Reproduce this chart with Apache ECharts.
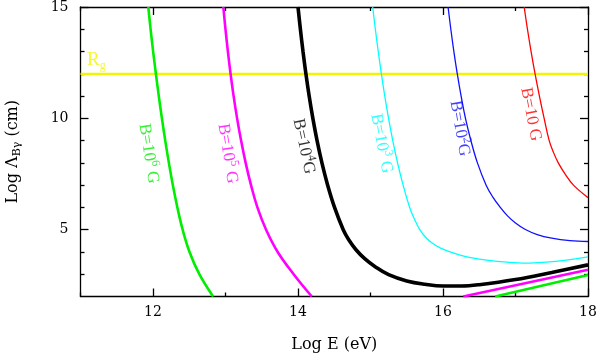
<!DOCTYPE html>
<html>
<head>
<meta charset="utf-8">
<script src="https://cdn.jsdelivr.net/npm/echarts@6/dist/echarts.min.js"></script>
<style>
  html, body { margin: 0; padding: 0; background: #fff; }
  #chart { width: 599px; height: 356px; }
</style>
</head>
<body>
<div id="chart"></div>
<script>
// axis ticks
var xMajor = [12, 14, 16, 18];
var xMinor = [11, 13, 15, 17];
var yMajor = [5, 10, 15];
var yMinor = [3, 4, 6, 7, 8, 9, 11, 12, 13, 14];

// curves, [log E, log Lambda]
var b6Upper = [[11.935, 15], [11.967, 14], [12.002, 13], [12.04, 12], [12.08, 11], [12.123, 10], [12.169, 9], [12.219, 8], [12.274, 7], [12.336, 6], [12.409, 5], [12.504, 4], [12.639, 3], [12.829, 2]];
var b6Lower = [[16.72, 2.0], [18.0, 2.97]];
var b5Upper = [[12.97, 15], [13.0, 14], [13.033, 13], [13.07, 12], [13.112, 11], [13.16, 10], [13.215, 9], [13.278, 8], [13.352, 7], [13.44, 6], [13.56, 5], [13.72, 4], [13.94, 3], [14.19, 2]];
var b5Lower = [[16.28, 2.0], [18.0, 3.2]];
var b4 = [[14.0, 15], [14.033, 14], [14.069, 13], [14.109, 12], [14.154, 11], [14.205, 10], [14.263, 9], [14.33, 8], [14.409, 7], [14.504, 6], [14.624, 5], [14.7, 4.55], [14.8, 4.1], [14.92, 3.7], [15.06, 3.35], [15.25, 2.98], [15.5, 2.7], [15.75, 2.55], [16.0, 2.47], [16.25, 2.47], [16.5, 2.53], [17.0, 2.76], [17.5, 3.08], [18.0, 3.42]];
var b3 = [[15.03, 15], [15.067, 14], [15.107, 13], [15.15, 12], [15.197, 11], [15.249, 10], [15.307, 9], [15.373, 8], [15.45, 7], [15.54, 6], [15.61, 5.45], [15.68, 5.0], [15.76, 4.66], [15.85, 4.4], [15.96, 4.18], [16.1, 4.0], [16.3, 3.8], [16.5, 3.68], [16.75, 3.58], [17.1, 3.5], [17.55, 3.58], [18.0, 3.78]];
var b2 = [[16.07, 15], [16.108, 14], [16.15, 13], [16.197, 12], [16.25, 11], [16.31, 10], [16.385, 9], [16.475, 8], [16.595, 7], [16.69, 6.45], [16.79, 6.0], [16.89, 5.62], [17.0, 5.3], [17.13, 5.02], [17.3, 4.78], [17.5, 4.62], [17.75, 4.51], [18.0, 4.47]];
var b1 = [[17.12, 15], [17.165, 14], [17.215, 13], [17.27, 12], [17.33, 11], [17.395, 10], [17.465, 9], [17.52, 8.5], [17.59, 8], [17.685, 7.5], [17.8, 7], [18.0, 6.44]];
var rg = 12;

// where the curve labels sit
var labB6 = [11.94, 8.42];
var labB5 = [13.03, 8.42];
var labB4 = [14.08, 8.74];
var labB3 = [15.15, 8.87];
var labB2 = [16.23, 9.55];
var labB1 = [17.21, 10.18];
var labRg = [11.22, 12.6];

var chart = echarts.init(document.getElementById('chart'));
var serif = 'Liberation Serif';
var axFont = 'DejaVu Serif';

function xAx(pos, vals, len, labels, line) {
  return {
    type: 'value', position: pos, min: 11, max: 18,
    axisLine: { show: line, onZero: false, lineStyle: { color: '#000', width: 1.3 } },
    axisTick: { show: true, inside: true, length: len, customValues: vals, lineStyle: { color: '#000', width: 1.3 } },
    axisLabel: labels ? { show: true, customValues: vals, margin: 9, color: '#000', fontFamily: axFont, fontSize: 14 } : { show: false },
    splitLine: { show: false }
  };
}
function yAx(pos, vals, len, labels, line) {
  return {
    type: 'value', position: pos, min: 2, max: 15,
    axisLine: { show: line, onZero: false, lineStyle: { color: '#000', width: 1.3 } },
    axisTick: { show: true, inside: true, length: len, customValues: vals, lineStyle: { color: '#000', width: 1.3 } },
    axisLabel: labels ? { show: true, customValues: vals, margin: 12, color: '#000', fontFamily: axFont, fontSize: 14 } : { show: false },
    splitLine: { show: false }
  };
}

var xAxes = [
  xAx('bottom', xMajor, 8, true, true),
  xAx('bottom', xMinor, 4, false, false),
  xAx('top', xMajor, 8, false, true),
  xAx('top', xMinor, 4, false, false)
];
xAxes[0].name = 'Log E (eV)';
xAxes[0].nameLocation = 'middle';
xAxes[0].nameGap = 40;
xAxes[0].nameTextStyle = { color: '#000', fontFamily: axFont, fontSize: 16 };

var yAxes = [
  yAx('left', yMajor, 8, true, true),
  yAx('left', yMinor, 4, false, false),
  yAx('right', yMajor, 8, false, true),
  yAx('right', yMinor, 4, false, false)
];
yAxes[0].name = '{a|Log Λ}{b|Bγ}{a| (cm)}';
yAxes[0].nameLocation = 'middle';
yAxes[0].nameGap = 58;
yAxes[0].nameTextStyle = {
  color: '#000',
  rich: {
    a: { fontFamily: axFont, fontSize: 16, color: '#000' },
    b: { fontFamily: axFont, fontSize: 11, color: '#000', padding: [9, 0, 0, 0] }
  }
};

function curve(data, color, w) {
  return {
    type: 'line', data: data, smooth: 0.4, showSymbol: false, symbol: 'none',
    lineStyle: { color: color, width: w }, silent: true, z: 3
  };
}

function tag(pos, color, text, rot) {
  return {
    type: 'scatter', data: [pos], symbolSize: 0, silent: true, z: 5,
    label: {
      show: true, position: 'inside', rotate: rot, formatter: text,
      rich: {
        t: { fontFamily: serif, fontSize: 17, color: color },
        r: { fontFamily: serif, fontSize: 19, color: color },
        s: { fontFamily: serif, fontSize: 12, color: color, padding: [0, 0, 10, 0] },
        d: { fontFamily: serif, fontSize: 12, color: color, padding: [10, 0, 0, 0] }
      }
    }
  };
}

chart.setOption({
  animation: false,
  backgroundColor: '#fff',
  grid: { left: 80.5, right: 11, top: 7, bottom: 59.5, containLabel: false, outerBoundsMode: 'none' },
  xAxis: xAxes,
  yAxis: yAxes,
  series: [
    curve([[11, rg], [18, rg]], '#f4f400', 2.2),
    curve(b6Upper, '#00ee00', 2.6),
    curve(b6Lower, '#00ee00', 2.6),
    curve(b5Upper, '#ff00ff', 2.6),
    curve(b5Lower, '#ff00ff', 2.6),
    curve(b4, '#000000', 3.6),
    curve(b3, '#00ffff', 1.3),
    curve(b2, '#1010ff', 1.3),
    curve(b1, '#ff0000', 1.3),
    tag(labB6, '#00ee00', '{t|B=10}{s|6}{t| G}', -81),
    tag(labB5, '#ff00ff', '{t|B=10}{s|5}{t| G}', -81),
    tag(labB4, '#000000', '{t|B=10}{s|4}{t|G}', -78),
    tag(labB3, '#00ffff', '{t|B=10}{s|3}{t| G}', -79),
    tag(labB2, '#1010ff', '{t|B=10}{s|2}{t|G}', -80),
    tag(labB1, '#ff0000', '{t|B=10 G}', -79),
    tag(labRg, '#f4f400', '{r|R}{d|g}', 0)
  ]
});
</script>
</body>
</html>
